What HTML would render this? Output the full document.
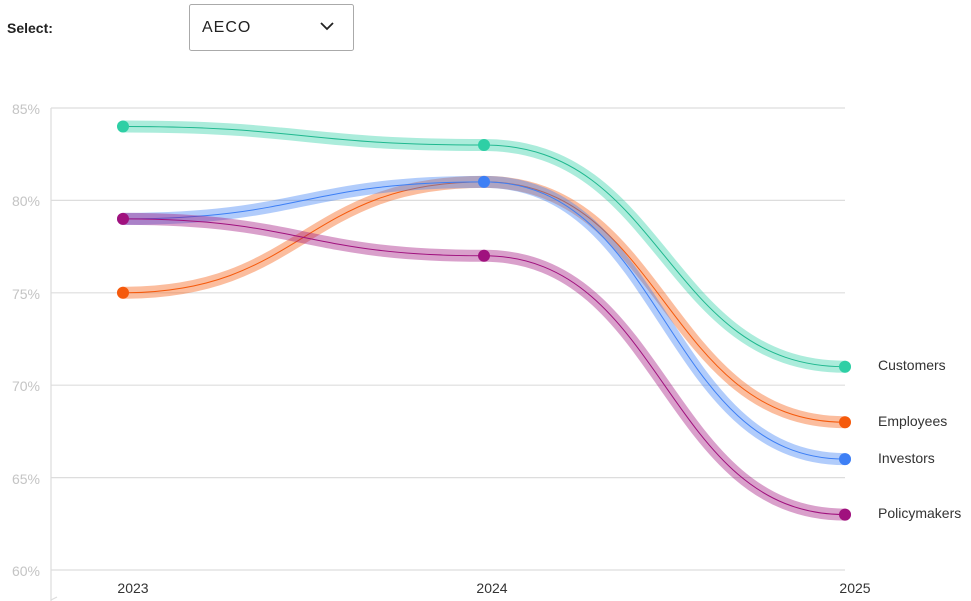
<!DOCTYPE html>
<html><head><meta charset="utf-8"><style>
html,body{margin:0;padding:0;background:#fff;width:971px;height:601px;overflow:hidden;font-family:"Liberation Sans",sans-serif;}
</style></head><body>
<svg width="971" height="601" xmlns="http://www.w3.org/2000/svg" style="position:absolute;left:0;top:0">
<text x="7" y="33" font-size="14" font-weight="bold" fill="#222">Select:</text>
<rect x="189.5" y="4.5" width="164" height="46" rx="2" fill="#fff" stroke="#aaa"/>
<text x="202" y="32" font-size="16" fill="#222" letter-spacing="1">AECO</text>
<path d="M321 23 L327 29 L333 23" fill="none" stroke="#222" stroke-width="1.8"/>
<g stroke="#ddd" stroke-width="1.2">
<line x1="51" y1="108" x2="845" y2="108"/>
<line x1="51" y1="200.4" x2="845" y2="200.4"/>
<line x1="51" y1="292.8" x2="845" y2="292.8"/>
<line x1="51" y1="385.2" x2="845" y2="385.2"/>
<line x1="51" y1="477.6" x2="845" y2="477.6"/>
<line x1="51" y1="570" x2="845" y2="570"/>
<line x1="51" y1="108" x2="51" y2="601"/>
<line x1="51" y1="600" x2="57" y2="597"/>
</g>
<g font-size="14" fill="#c4c4c4" text-anchor="end">
<text x="40" y="114">85%</text><text x="40" y="206">80%</text><text x="40" y="299">75%</text>
<text x="40" y="391">70%</text><text x="40" y="484">65%</text><text x="40" y="576">60%</text>
</g>
<g font-size="14" fill="#333" text-anchor="middle">
<text x="133" y="593">2023</text><text x="492" y="593">2024</text><text x="855" y="593">2025</text>
</g>
<g fill="none" stroke-linecap="round">
<path d="M123 126.5 C303.5 126.5 303.5 145 484 145 C664.5 145 664.5 366.7 845 366.7" stroke="#2ecfa5" stroke-opacity="0.4" stroke-width="12"/>
<path d="M123 126.5 C303.5 126.5 303.5 145 484 145 C664.5 145 664.5 366.7 845 366.7" stroke="#1fb88f" stroke-width="1"/>
<path d="M123 292.8 C303.5 292.8 303.5 181.9 484 181.9 C664.5 181.9 664.5 422.2 845 422.2" stroke="#f55a0c" stroke-opacity="0.4" stroke-width="12"/>
<path d="M123 292.8 C303.5 292.8 303.5 181.9 484 181.9 C664.5 181.9 664.5 422.2 845 422.2" stroke="#f55a0c" stroke-width="1"/>
<path d="M123 218.9 C303.5 218.9 303.5 181.9 484 181.9 C664.5 181.9 664.5 459.1 845 459.1" stroke="#3d7ff5" stroke-opacity="0.4" stroke-width="12"/>
<path d="M123 218.9 C303.5 218.9 303.5 181.9 484 181.9 C664.5 181.9 664.5 459.1 845 459.1" stroke="#3d7ff5" stroke-width="1"/>
<path d="M123 218.9 C303.5 218.9 303.5 255.8 484 255.8 C664.5 255.8 664.5 514.6 845 514.6" stroke="#a0117e" stroke-opacity="0.4" stroke-width="12"/>
<path d="M123 218.9 C303.5 218.9 303.5 255.8 484 255.8 C664.5 255.8 664.5 514.6 845 514.6" stroke="#a0117e" stroke-width="1"/>
</g>
<g>
<circle cx="123" cy="126.5" r="6" fill="#2ecfa5"/><circle cx="484" cy="145" r="6" fill="#2ecfa5"/><circle cx="845" cy="366.7" r="6" fill="#2ecfa5"/>
<circle cx="123" cy="292.8" r="6" fill="#f55a0c"/><circle cx="845" cy="422.2" r="6" fill="#f55a0c"/>
<circle cx="484" cy="181.9" r="6" fill="#3d7ff5"/><circle cx="845" cy="459.1" r="6" fill="#3d7ff5"/>
<circle cx="123" cy="218.9" r="6" fill="#a0117e"/><circle cx="484" cy="255.8" r="6" fill="#a0117e"/><circle cx="845" cy="514.6" r="6" fill="#a0117e"/>
</g>
<g font-size="14" fill="#333">
<text x="878" y="370">Customers</text><text x="878" y="426">Employees</text>
<text x="878" y="463">Investors</text><text x="878" y="518">Policymakers</text>
</g>
</svg>
</body></html>
